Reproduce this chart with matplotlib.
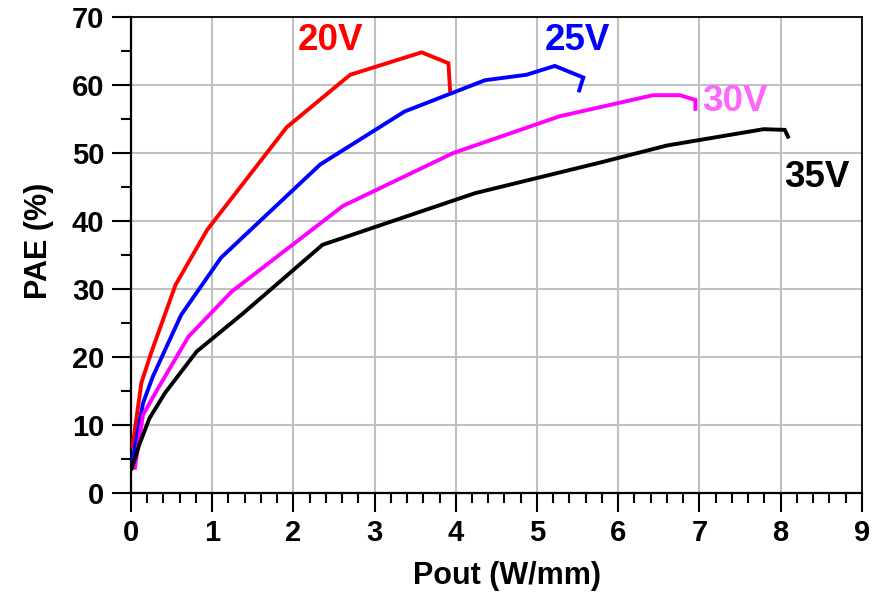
import matplotlib.pyplot as plt
from matplotlib.ticker import MultipleLocator

plt.rcParams["font.family"] = ["Liberation Sans", "DejaVu Sans"]
plt.rcParams["font.weight"] = "bold"

# PAE vs output power density, one curve per drain voltage
pout_20v = [0.02, 0.13, 0.25, 0.55, 0.94, 1.92, 2.70, 3.58, 3.91, 3.93]
pae_20v = [6.8, 16.2, 20.6, 30.6, 38.7, 53.8, 61.5, 64.8, 63.2, 59.2]

pout_25v = [0.02, 0.15, 0.27, 0.62, 1.11, 2.33, 3.37, 4.36, 4.87, 5.22, 5.57, 5.52]
pae_25v = [4.8, 13.2, 17.1, 26.2, 34.6, 48.3, 56.1, 60.7, 61.5, 62.8, 61.1, 59.2]

pout_30v = [0.05, 0.15, 0.34, 0.71, 1.24, 2.61, 3.97, 5.28, 6.43, 6.76, 6.95, 6.95]
pae_30v = [3.7, 11.5, 15.5, 23.0, 29.6, 42.2, 50.0, 55.4, 58.5, 58.5, 57.8, 56.5]

pout_35v = [0.01, 0.11, 0.23, 0.42, 0.81, 1.38, 2.36, 4.24, 5.78, 6.60, 7.79, 8.05, 8.09]
pae_35v = [3.6, 7.3, 11.0, 14.7, 20.8, 26.4, 36.5, 44.1, 48.6, 51.1, 53.5, 53.4, 52.4]

curves = [
    (pout_20v, pae_20v, "#ff0000"),
    (pout_25v, pae_25v, "#0000ff"),
    (pout_30v, pae_30v, "#ff00ff"),
    (pout_35v, pae_35v, "#000000"),
]

# voltage labels: text, x, y, colour
labels = [
    ("20V", 2.46, 66.6, "#ff0000"),
    ("25V", 5.50, 66.5, "#0000ff"),
    ("30V", 7.44, 57.5, "#ff66ff"),
    ("35V", 8.44, 46.4, "#000000"),
]

fig = plt.figure(figsize=(8.84, 5.98), dpi=100)
ax = fig.add_axes([0.148, 0.1756, 0.827, 0.796])

for x, y, color in curves:
    ax.plot(x, y, color=color, linewidth=2.8, solid_joinstyle="miter", zorder=3)

for text, x, y, color in labels:
    ax.text(x, y, text, color=color, fontsize=26.5, fontweight="bold",
            ha="center", va="center", zorder=4)

ax.set_xlim(0, 9)
ax.set_ylim(0, 70)
ax.xaxis.set_major_locator(MultipleLocator(1))
ax.xaxis.set_minor_locator(MultipleLocator(0.2))
ax.yaxis.set_major_locator(MultipleLocator(10))
ax.yaxis.set_minor_locator(MultipleLocator(5))

ax.grid(True, which="major", color="#c0c0c0", linewidth=1.5, zorder=0)
ax.set_axisbelow(True)

ax.tick_params(which="major", direction="out", length=14, width=1.5,
               labelsize=21, pad=5)
ax.tick_params(which="minor", direction="out", length=7, width=1.5)
ax.tick_params(top=False, right=False, which="both")
for side in ["left", "bottom"]:
    ax.spines[side].set_linewidth(1.6)
for side in ["top", "right"]:
    ax.spines[side].set_linewidth(1.3)

ax.set_xlabel("Pout (W/mm)", fontsize=22, fontweight="bold")
ax.set_ylabel("PAE (%)", fontsize=22, fontweight="bold")
ax.xaxis.set_label_coords(0.515, -0.143)
ax.yaxis.set_label_coords(-0.105, 0.53)

fig.savefig("out.png", dpi=100)
